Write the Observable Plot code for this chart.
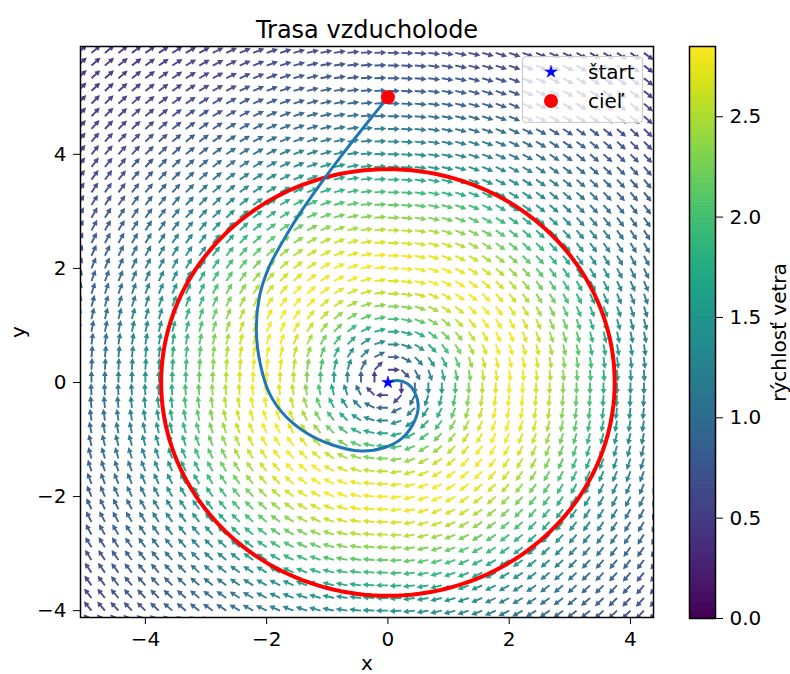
<!DOCTYPE html>
<html><head><meta charset="utf-8">
<script src="https://cdn.jsdelivr.net/npm/d3@7"></script>
<script src="https://cdn.jsdelivr.net/npm/@observablehq/plot@0.6"></script>
<style>
body{margin:0;background:#fff;}
#wrap{position:relative;width:790px;height:674px;font-family:"DejaVu Sans",sans-serif;}
#wrap > *{position:absolute;left:0;top:0;}
</style></head><body><div id="wrap"></div>
<script>
// ---- data ----
const title = "Trasa vzducholode";
const xLabel = "x", yLabel = "y", colorLabel = "rýchlosť vetra";
const xDomain = [-5.07, 4.38];
const yDomain = [-4.12, 5.89];
const xTicks = [-4, -2, 0, 2, 4];
const yTicks = [-4, -2, 0, 2, 4];
const colorTicks = [0, 0.5, 1.0, 1.5, 2.0, 2.5];
const speedMax = 2.85;

// wind grid (arrow positions)
const gridX = [-5.111,-4.889,-4.667,-4.444,-4.222,-4.000,-3.778,-3.556,-3.333,-3.111,-2.889,-2.667,-2.444,-2.222,-2.000,-1.778,-1.556,-1.333,-1.111,-0.889,-0.667,-0.444,-0.222,0,0.222,0.444,0.667,0.889,1.111,1.333,1.556,1.778,2.000,2.222,2.444,2.667,2.889,3.111,3.333,3.556,3.778,4.000,4.222,4.444];
const gridY = [-4.222,-4.000,-3.778,-3.556,-3.333,-3.111,-2.889,-2.667,-2.444,-2.222,-2.000,-1.778,-1.556,-1.333,-1.111,-0.889,-0.667,-0.444,-0.222,0,0.222,0.444,0.667,0.889,1.111,1.333,1.556,1.778,2.000,2.222,2.444,2.667,2.889,3.111,3.333,3.556,3.778,4.000,4.222,4.444,4.667,4.889,5.111,5.333,5.556,5.778,6.000];

// wind speed vs distance from the vortex centre
const profileR     = [0, 0.22, 0.45, 0.66, 0.9, 1.1, 1.3, 1.6, 1.9, 2.2, 2.6, 3.0, 3.4, 3.8, 4.2, 4.6, 5.0, 5.5, 6.0, 6.5, 7.0, 7.8];
const profileSpeed = [0, 0.42, 0.85, 1.25, 1.65, 1.95, 2.25, 2.6, 2.8, 2.8, 2.6, 2.25, 1.9, 1.55, 1.25, 1.05, 0.88, 0.72, 0.6, 0.5, 0.43, 0.35];

// airship path
const pathX = [0, 0.155, 0.32, 0.44, 0.5, 0.42, 0.23, -0.05, -0.45, -0.9, -1.35, -1.7, -1.95, -2.1, -2.17, -2.12, -1.97, -1.72, -1.43, -1.1, -0.75, -0.38, 0];
const pathY = [0, 0.035, -0.02, -0.17, -0.43, -0.72, -0.98, -1.14, -1.2, -1.1, -0.88, -0.58, -0.2, 0.3, 0.9, 1.5, 2.0, 2.5, 3.0, 3.5, 4.0, 4.5, 5.0];

const circleRadius = 3.74;
const startPoint = [{x: 0, y: 0, label: "štart"}];
const goalPoint = [{x: 0, y: 5, label: "cieľ"}];

// ---- build tables ----
const speedAt = d3.scaleLinear().domain(profileR).range(profileSpeed).clamp(true);
const field = [];
for (const x of gridX) for (const y of gridY) {
  const r = Math.hypot(x, y);
  if (r === 0) continue;
  field.push({x, y, speed: speedAt(r), angle: Math.atan2(y, -x) * 180 / Math.PI});
}
const path = pathX.map((x, i) => ({x, y: pathY[i]}));
const circle = d3.range(0, 361, 2).map(a => ({x: circleRadius * Math.cos(a * Math.PI / 180), y: circleRadius * Math.sin(a * Math.PI / 180)}));

const colorOpt = {type: "linear", scheme: "viridis", domain: [0, speedMax]};
const style = {fontFamily: "DejaVu Sans", fontSize: "20px", background: "transparent", color: "black", overflow: "visible"};

const arrowShape = {
  draw(ctx, l) {
    const w = 0.95, hw = 2.9, hl = 5.5;
    ctx.moveTo(-w, 0);
    ctx.lineTo(-w, -l + hl);
    ctx.lineTo(-hw, -l + hl);
    ctx.lineTo(0, -l);
    ctx.lineTo(hw, -l + hl);
    ctx.lineTo(w, -l + hl);
    ctx.lineTo(w, 0);
    ctx.closePath();
  }
};

function mainPlot(custom) {
  const vec = custom
    ? Plot.vector(field, {x: "x", y: "y", rotate: "angle", length: 12, anchor: "start", shape: arrowShape, fill: "speed", stroke: "none", fillOpacity: 0.95, clip: true})
    : Plot.vector(field, {x: "x", y: "y", rotate: "angle", length: 12, anchor: "start", stroke: "speed", strokeWidth: 1.8, r: 3, clip: true});
  return Plot.plot({
    width: 790, height: 674,
    marginLeft: 80, marginRight: 137, marginTop: 46, marginBottom: 57,
    x: {domain: xDomain, ticks: xTicks, tickSize: 7, tickPadding: 7, label: null},
    y: {domain: yDomain, ticks: yTicks, tickSize: 7, tickPadding: 7, label: null},
    color: colorOpt,
    style,
    marks: [
      vec,
      Plot.line(circle, {x: "x", y: "y", stroke: "red", strokeWidth: 4}),
      Plot.line(path, {x: "x", y: "y", stroke: "#1f77b4", strokeWidth: 3, curve: "catmull-rom"}),
      Plot.dot(startPoint, {x: "x", y: "y", symbol: "star", fill: "blue", stroke: "blue", strokeWidth: 0.5, r: 3.9}),
      Plot.dot(goalPoint, {x: "x", y: "y", fill: "red", r: 7}),
      Plot.frame({stroke: "black", strokeWidth: 1.5}),
      Plot.text([title], {text: d => d, frameAnchor: "top", dy: -16, fontSize: 24, textAnchor: "middle", lineAnchor: "middle"}),
      Plot.text([xLabel], {text: d => d, frameAnchor: "bottom", dy: 46, fontSize: 20, textAnchor: "middle", lineAnchor: "middle"}),
      Plot.text([yLabel], {text: d => d, frameAnchor: "left", dx: -62, rotate: -90, fontSize: 20, textAnchor: "middle", lineAnchor: "middle"})
    ]
  });
}

let main;
try { main = mainPlot(true); } catch (e) { main = mainPlot(false); }

const step = speedMax / 400;
const cbValues = d3.range(0, speedMax, step);
const cb = Plot.plot({
  width: 130, height: 674,
  marginLeft: 29, marginRight: 75, marginTop: 46, marginBottom: 56,
  x: {domain: [0, 1], axis: null},
  y: {domain: [0, speedMax], ticks: colorTicks, tickFormat: d3.format(".1f"), axis: "right", tickSize: 7, tickPadding: 7, label: null},
  color: colorOpt,
  style,
  marks: [
    Plot.rect(cbValues, {x1: 0, x2: 1, y1: d => d, y2: d => Math.min(speedMax, d + step * 1.5), fill: d => d}),
    Plot.frame({stroke: "black", strokeWidth: 1.5}),
    Plot.text([colorLabel], {text: d => d, frameAnchor: "right", dx: 64, rotate: -90, fontSize: 20, textAnchor: "middle", lineAnchor: "middle"})
  ]
});
cb.style.left = "660px";

const wrap = document.getElementById("wrap");
wrap.appendChild(main);
wrap.appendChild(cb);

// legend (inside axes, upper right)
const ns = "http://www.w3.org/2000/svg";
const leg = document.createElementNS(ns, "svg");
leg.setAttribute("width", 124); leg.setAttribute("height", 70);
leg.style.left = "521px"; leg.style.top = "55px";
const lg = d3.select(leg);
lg.append("rect").attr("x", 1.5).attr("y", 1.5).attr("width", 120).attr("height", 66).attr("rx", 4)
  .attr("fill", "rgba(255,255,255,0.8)").attr("stroke", "#cccccc").attr("stroke-width", 1.2);
const entries = [
  {label: startPoint[0].label, sym: "star", color: "blue", y: 17},
  {label: goalPoint[0].label, sym: "circle", color: "red", y: 46}
];
for (const e of entries) {
  if (e.sym === "star") {
    lg.append("path").attr("transform", `translate(30,${e.y})`).attr("d", d3.symbol(d3.symbolStar, Math.PI * 3.9 * 3.9)()).attr("fill", e.color).attr("stroke", e.color).attr("stroke-width", 0.5);
  } else {
    lg.append("circle").attr("cx", 30).attr("cy", e.y).attr("r", 7).attr("fill", e.color);
  }
  lg.append("text").attr("x", 67).attr("y", e.y).attr("dy", "0.35em").attr("font-family", "DejaVu Sans").attr("font-size", 20).text(e.label);
}
wrap.appendChild(leg);
</script></body></html>
